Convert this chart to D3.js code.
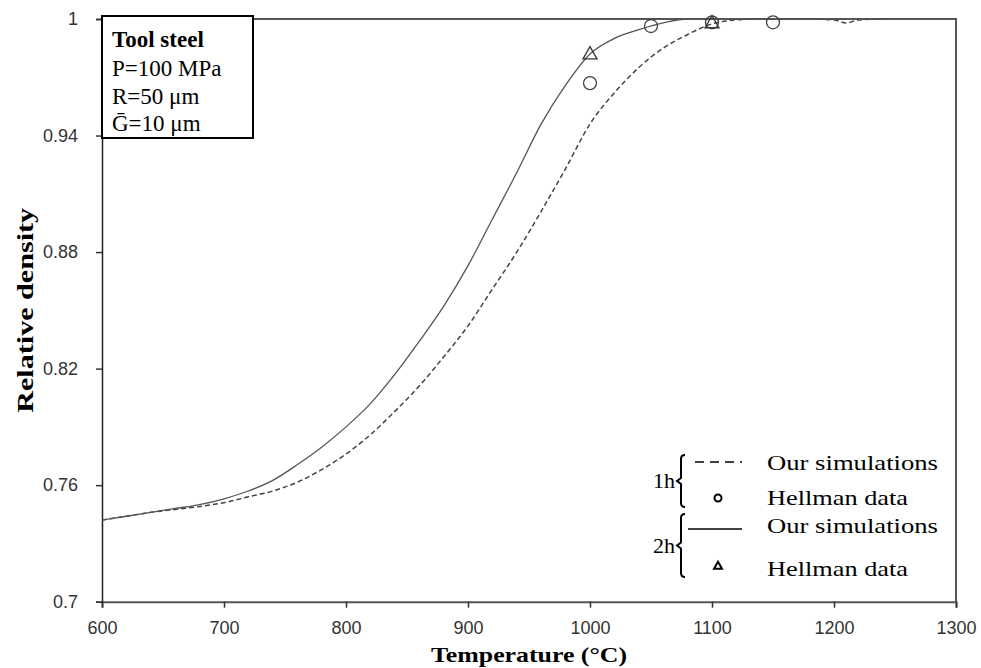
<!DOCTYPE html>
<html>
<head>
<meta charset="utf-8">
<title>Relative density vs temperature</title>
<style>
  body { margin: 0; background: #fff; }
  .tick text { font-family: "Liberation Sans", Arial, sans-serif; font-size: 18px; fill: #333; }
  .serif { font-family: "Liberation Serif", "Times New Roman", serif; fill: #000; }
</style>
</head>
<body>
<svg id="chart" width="981" height="668"></svg>

<script src="https://cdn.jsdelivr.net/npm/d3@7"></script>
<script type="text/javascript">

// temperature grid of the simulation curves (°C)
const temps = [600, 620, 640, 660, 680, 700, 720, 740, 760, 780, 800, 820, 840, 860, 880,
               900, 920, 940, 960, 980, 1000, 1020, 1040, 1060, 1080, 1100, 1120, 1140,
               1160, 1180, 1200, 1210, 1220, 1240];

// 1h simulation (dashed)
const sim1h = [0.742, 0.744, 0.746, 0.7475, 0.749, 0.751, 0.754, 0.757, 0.7615, 0.768, 0.776,
               0.786, 0.798, 0.811, 0.826, 0.842, 0.861, 0.880, 0.901, 0.923, 0.946, 0.962,
               0.975, 0.985, 0.992, 0.9975, 0.9995, 1.0, 1.0, 1.0, 0.9995, 0.998, 0.9995, 1.0];

// 2h simulation (solid)
const sim2h = [0.742, 0.744, 0.746, 0.748, 0.750, 0.753, 0.757, 0.7625, 0.7705, 0.7795, 0.790,
               0.802, 0.817, 0.834, 0.852, 0.873, 0.897, 0.921, 0.946, 0.966, 0.982, 0.990,
               0.9945, 0.998, 1.0, 1.0, 1.0, 1.0, 1.0, 1.0, 1.0, 1.0, 1.0, 1.0];

// Hellman data
const hellman1hT = [1000, 1050, 1100, 1150];
const hellman1h  = [0.967, 0.9964, 0.9983, 0.9983];
const hellman2hT = [1000, 1100];
const hellman2h  = [0.982, 0.998];

const xTicks = [600, 700, 800, 900, 1000, 1100, 1200, 1300];
const yTicks = [0.7, 0.76, 0.82, 0.88, 0.94, 1];

const infoLines = ['P=100 MPa', 'R=50 μm', 'Ḡ=10 μm'];

const svg = d3.select('#chart');

const mLeft = 102, mRight = 956, mTop = 19, mBottom = 601.7;

const x = d3.scaleLinear().domain([600, 1300]).range([mLeft, mRight]);
const y = d3.scaleLinear().domain([0.7, 1]).range([mBottom, mTop]);

// frame (top and right)
svg.append('path')
    .attr('d', `M${mLeft},${mTop}H${mRight}V${mBottom}`)
    .attr('fill', 'none')
    .attr('stroke', '#555')
    .attr('stroke-width', 2);

// axes
svg.append('g')
    .attr('transform', `translate(0,${mBottom})`)
    .call(d3.axisBottom(x).tickValues(xTicks).tickSize(6).tickPadding(14).tickFormat(d3.format('d')))
    .call(g => g.select('.domain').attr('stroke', '#555').attr('stroke-width', 2))
    .call(g => g.selectAll('.tick line').attr('stroke', '#333').attr('stroke-width', 1.5));

svg.append('g')
    .attr('transform', `translate(${mLeft},0)`)
    .call(d3.axisLeft(y).tickValues(yTicks).tickSize(6).tickPadding(18).tickFormat(d => String(d)))
    .call(g => g.select('.domain').attr('stroke', '#222').attr('stroke-width', 1.5))
    .call(g => g.selectAll('.tick line').attr('stroke', '#333').attr('stroke-width', 1.5));

// curves
const line = d3.line()
    .x(d => x(d[0]))
    .y(d => y(d[1]))
    .curve(d3.curveMonotoneX);

svg.append('path')
    .datum(d3.zip(temps, sim1h))
    .attr('d', line)
    .attr('fill', 'none')
    .attr('stroke', '#444')
    .attr('stroke-width', 1.5)
    .attr('stroke-dasharray', '5,3');

svg.append('path')
    .datum(d3.zip(temps, sim2h))
    .attr('d', line)
    .attr('fill', 'none')
    .attr('stroke', '#555')
    .attr('stroke-width', 1.3);

// markers
const tri = (cx, cy, s) => {
    const h = s * 0.87;
    return `M${cx},${cy - h * 0.6}L${cx + s / 2},${cy + h * 0.4}L${cx - s / 2},${cy + h * 0.4}Z`;
};

svg.append('g').selectAll('circle')
    .data(d3.zip(hellman1hT, hellman1h))
    .join('circle')
    .attr('cx', d => x(d[0]))
    .attr('cy', d => y(d[1]))
    .attr('r', 6.5)
    .attr('fill', 'none')
    .attr('stroke', '#444')
    .attr('stroke-width', 1.3);

svg.append('g').selectAll('path')
    .data(d3.zip(hellman2hT, hellman2h))
    .join('path')
    .attr('d', d => tri(x(d[0]), y(d[1]), 14))
    .attr('fill', 'none')
    .attr('stroke', '#333')
    .attr('stroke-width', 1.3);

// info box
svg.append('rect')
    .attr('x', mLeft)
    .attr('y', 16)
    .attr('width', 151)
    .attr('height', 122)
    .attr('fill', '#fff')
    .attr('stroke', '#000')
    .attr('stroke-width', 2);

svg.append('text')
    .attr('class', 'serif')
    .attr('x', 112)
    .attr('y', 47)
    .attr('font-size', 23)
    .attr('font-weight', 'bold')
    .text('Tool steel');

svg.selectAll('.info')
    .data(infoLines)
    .join('text')
    .attr('class', 'serif info')
    .attr('x', 112)
    .attr('y', (d, i) => 76 + i * 27.5)
    .attr('font-size', 23)
    .text(d => d);

// axis titles
svg.append('text')
    .attr('class', 'serif')
    .attr('x', (mLeft + mRight) / 2)
    .attr('y', 662)
    .attr('text-anchor', 'middle')
    .attr('font-size', 22)
    .attr('font-weight', 'bold')
    .attr('textLength', 196)
    .attr('lengthAdjust', 'spacingAndGlyphs')
    .text('Temperature (°C)');

svg.append('text')
    .attr('class', 'serif')
    .attr('transform', `translate(33,${(mTop + mBottom) / 2}) rotate(-90)`)
    .attr('text-anchor', 'middle')
    .attr('font-size', 23)
    .attr('font-weight', 'bold')
    .attr('textLength', 205)
    .attr('lengthAdjust', 'spacingAndGlyphs')
    .text('Relative density');

// legend
const legend = svg.append('g').attr('class', 'legend');

const brace = (bx, y0, y1) => {
    const m = (y0 + y1) / 2;
    return `M${bx + 4},${y0}Q${bx},${y0} ${bx},${y0 + 4}V${m - 3}L${bx - 4},${m}L${bx},${m + 3}V${y1 - 4}Q${bx},${y1} ${bx + 4},${y1}`;
};

legend.append('path').attr('d', brace(681, 455, 507))
    .attr('fill', 'none').attr('stroke', '#000').attr('stroke-width', 2);
legend.append('path').attr('d', brace(681, 514, 577))
    .attr('fill', 'none').attr('stroke', '#000').attr('stroke-width', 2);

legend.append('text').attr('class', 'serif')
    .attr('x', 675).attr('y', 488).attr('text-anchor', 'end')
    .attr('font-size', 22).text('1h');
legend.append('text').attr('class', 'serif')
    .attr('x', 675).attr('y', 553).attr('text-anchor', 'end')
    .attr('font-size', 22).text('2h');

legend.append('line')
    .attr('x1', 695).attr('x2', 742).attr('y1', 462).attr('y2', 462)
    .attr('stroke', '#000').attr('stroke-width', 1.5).attr('stroke-dasharray', '9,6');
legend.append('circle')
    .attr('cx', 718).attr('cy', 498).attr('r', 3.5)
    .attr('fill', 'none').attr('stroke', '#000').attr('stroke-width', 2);
legend.append('line')
    .attr('x1', 688).attr('x2', 742).attr('y1', 529).attr('y2', 529)
    .attr('stroke', '#000').attr('stroke-width', 1.5);
legend.append('path')
    .attr('d', tri(718, 566, 8))
    .attr('fill', 'none').attr('stroke', '#000').attr('stroke-width', 2);

const legendText = ['Our simulations', 'Hellman data', 'Our simulations', 'Hellman data'];
const legendY = [470, 505, 533, 576];
const legendLen = [171, 141, 171, 141];

legend.selectAll('.ltext')
    .data(legendText)
    .join('text')
    .attr('class', 'serif ltext')
    .attr('x', 767)
    .attr('y', (d, i) => legendY[i])
    .attr('font-size', 22)
    .attr('textLength', (d, i) => legendLen[i])
    .attr('lengthAdjust', 'spacingAndGlyphs')
    .text(d => d);

</script>
</body>
</html>
